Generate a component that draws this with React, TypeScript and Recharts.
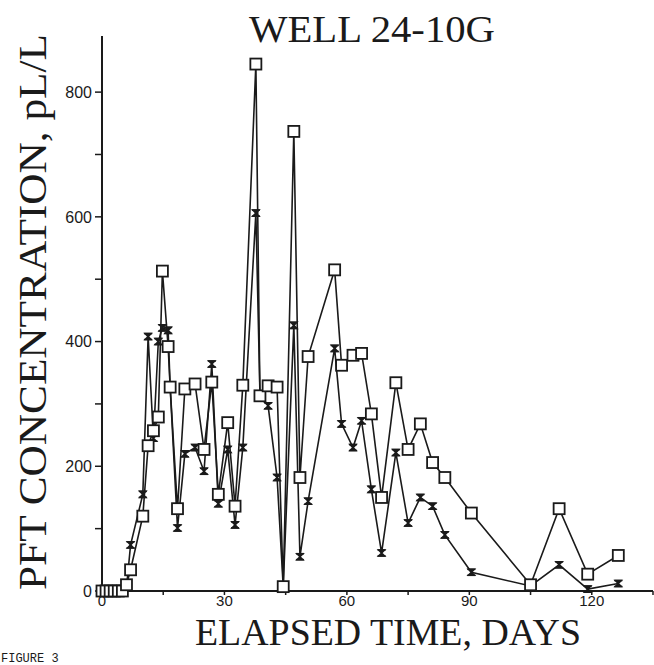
import React from 'react';
import { ComposedChart, Line, XAxis, YAxis } from 'recharts';

// sampling days and the two tracer concentrations (pL/L)
const days = [
  0, 1, 2, 3, 4, 5, 6, 7, 10, 11.3, 12.6, 13.8, 14.8, 16.2, 16.7, 18.5, 20.3, 22.8,
  25, 26.9, 28.5, 30.8, 32.6, 34.5, 37.7, 38.7, 40.7, 42.9, 44.4, 47, 48.5, 50.5, 57,
  58.7, 61.5, 63.6, 66, 68.5, 72, 75, 78, 81, 84, 90.5, 105, 112, 119, 126.5,
];
const squareSeries = [
  0, 0, 0, 0, 0, 0, 10, 34, 120, 233, 257, 279, 513, 392, 327, 132, 324, 332,
  227, 335, 155, 270, 136, 330, 845, 313, 329, 327, 7, 737, 182, 376, 515,
  362, 378, 381, 284, 150, 334, 227, 268, 206, 182, 125, 10, 132, 27, 57,
];
const starSeries = [
  0, 0, 0, 0, 0, 0, 5, 74, 155, 408, 245, 400, 422, 418, 327, 101, 220, 230,
  192, 364, 140, 227, 106, 230, 606, 316, 297, 182, 7, 426, 55, 144, 389,
  268, 230, 273, 163, 61, 222, 109, 150, 136, 90, 30, 8, 42, 3, 12,
];
const xTicks = [0, 15, 30, 45, 60, 75, 90, 105, 120, 135];
const yTicks = [0, 100, 200, 300, 400, 500, 600, 700, 800];

const data = days.map((d, i) => ({ day: d, sq: squareSeries[i], st: starSeries[i] }));

const INK = '#1a1a1a';

function SquareDot(props: any) {
  const { cx, cy } = props;
  if (cx == null || cy == null) return null;
  return <rect x={cx - 5.5} y={cy - 5.5} width={11} height={11} fill="#fff" stroke={INK} strokeWidth={1.8} />;
}

function StarDot(props: any) {
  const { cx, cy } = props;
  if (cx == null || cy == null) return null;
  return (
    <g stroke={INK} strokeWidth={1.6}>
      <line x1={cx - 4} y1={cy - 3} x2={cx + 4} y2={cy - 3} />
      <line x1={cx - 4} y1={cy + 3} x2={cx + 4} y2={cy + 3} />
      <polygon points={`${cx - 3},${cy - 3} ${cx + 3},${cy - 3} ${cx},${cy} ${cx + 3},${cy + 3} ${cx - 3},${cy + 3} ${cx},${cy}`} fill={INK} />
    </g>
  );
}

const tickStyle = { fontFamily: 'Liberation Sans, Arial, sans-serif', fontSize: 15, fill: INK };

export default function App() {
  return (
    <div style={{ position: 'absolute', left: 0, top: 0, width: 654, height: 665, background: '#fff' }}>
      <ComposedChart
        width={654}
        height={665}
        data={data}
        margin={{ top: 36, right: 1, left: 40, bottom: 44 }}
      >
        <XAxis
          type="number"
          dataKey="day"
          domain={[0, 135]}
          ticks={xTicks}
          tickFormatter={(v: number) => (v % 30 === 0 ? String(v) : '')}
          axisLine={{ stroke: INK, strokeWidth: 2 }}
          tickLine={{ stroke: INK, strokeWidth: 1.5 }}
          tickSize={4}
          tickMargin={0}
          tick={tickStyle}
          height={30}
          interval={0}
        />
        <YAxis
          type="number"
          domain={[0, 890]}
          ticks={yTicks}
          tickFormatter={(v: number) => (v % 200 === 0 ? String(v) : '')}
          axisLine={{ stroke: INK, strokeWidth: 2 }}
          tickLine={{ stroke: INK, strokeWidth: 1.5 }}
          tickSize={7}
          tickMargin={3}
          tick={{ ...tickStyle, fontSize: 16 }}
          width={62}
          interval={0}
        />
        <Line
          type="linear"
          dataKey="st"
          stroke={INK}
          strokeWidth={1.6}
          dot={<StarDot />}
          activeDot={false}
          isAnimationActive={false}
        />
        <Line
          type="linear"
          dataKey="sq"
          stroke={INK}
          strokeWidth={1.6}
          dot={<SquareDot />}
          activeDot={false}
          isAnimationActive={false}
        />
      </ComposedChart>
      <svg width={654} height={665} style={{ position: 'absolute', left: 0, top: 0, pointerEvents: 'none' }}>
        <text x={372} y={42} textAnchor="middle" fontFamily="Liberation Serif, serif" fontSize={38} fill={INK}
          textLength={246} lengthAdjust="spacingAndGlyphs">
          WELL 24-10G
        </text>
        <text x={388} y={645} textAnchor="middle" fontFamily="Liberation Serif, serif" fontSize={38} fill={INK}
          textLength={386} lengthAdjust="spacingAndGlyphs">
          ELAPSED TIME, DAYS
        </text>
        <text transform="translate(46,312) rotate(-90)" textAnchor="middle" fontFamily="Liberation Serif, serif"
          fontSize={40} fill={INK} textLength={556} lengthAdjust="spacingAndGlyphs">
          PFT CONCENTRATION, pL/L
        </text>
        <text x={1} y={662} fontFamily="Liberation Mono, monospace" fontSize={12} fill={INK}>
          FIGURE 3
        </text>
      </svg>
    </div>
  );
}
